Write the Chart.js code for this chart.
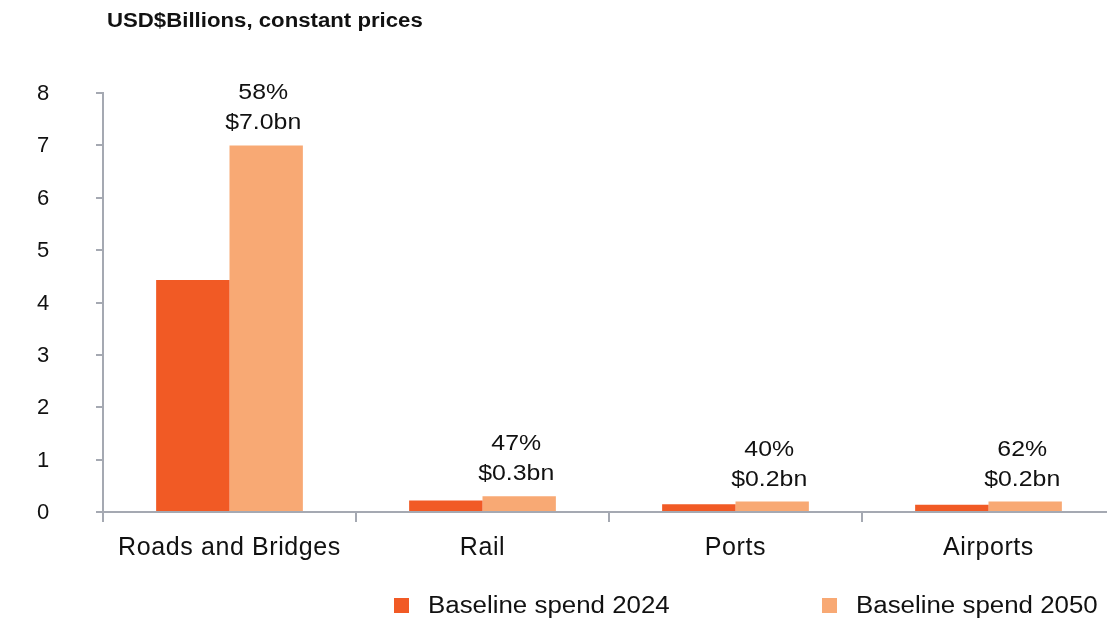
<!DOCTYPE html>
<html>
<head>
<meta charset="utf-8">
<script src="https://cdn.jsdelivr.net/npm/chart.js@4.4.1/dist/chart.umd.min.js"></script>
<style>
  html, body { margin: 0; padding: 0; background: #fff; overflow: hidden; }
  #wrap { position: relative; width: 1107px; height: 624px; overflow: hidden;
          font-family: "Liberation Sans", Arial, sans-serif; color: #111; }
  #chart { position: absolute; left: 0; top: 0; }
  #unit { position: absolute; left: 107px; top: 9px; font-size: 20px; font-weight: bold;
          white-space: nowrap; transform: scaleX(1.11); transform-origin: 0 0; }
  .key { position: absolute; top: 592px; height: 26px; white-space: nowrap; }
  .key span { position: absolute; left: 0; top: 6px; width: 15px; height: 15px; }
  .key b { position: absolute; left: 34px; top: 0; font-weight: normal; font-size: 23px; line-height: 26px;
           transform: scaleX(1.125); transform-origin: 0 0; }
</style>
</head>
<body>
<div id="wrap">
  <canvas id="chart" width="1120" height="624"></canvas>
  <div id="unit">USD$Billions, constant prices</div>
  <div id="legend"></div>
</div>
<script>
const sectors = ['Roads and Bridges', 'Rail', 'Ports', 'Airports'];
const spend2024 = [4.43, 0.22, 0.15, 0.14];
const spend2050 = [7.0, 0.3, 0.2, 0.2];
const growth = [58, 47, 40, 62];   // % change 2024 -> 2050
const yTicks = [0, 1, 2, 3, 4, 5, 6, 7, 8];

const axisGrey = '#a5a9b2';
const family = '"Liberation Sans", Arial, sans-serif';

// slightly wider tracking for the category labels
const tracking = {
  id: 'tracking',
  beforeDraw(chart) { chart.ctx.letterSpacing = '0.6px'; },
  afterDraw(chart) { chart.ctx.letterSpacing = '0px'; }
};

// growth % and 2050 value above each light bar
const barNotes = {
  id: 'barNotes',
  afterDatasetsDraw(chart) {
    const ctx = chart.ctx;
    const meta = chart.getDatasetMeta(1);
    meta.data.forEach((bar, i) => {
      ctx.save();
      ctx.letterSpacing = '0px';
      ctx.font = '22px ' + family;
      ctx.fillStyle = '#111';
      ctx.textAlign = 'center';
      ctx.textBaseline = 'alphabetic';
      ctx.translate(bar.x - 3, bar.y);
      ctx.scale(1.13, 1);
      ctx.fillText('$' + spend2050[i].toFixed(1) + 'bn', 0, -16);
      ctx.fillText(growth[i] + '%', 0, -46);
      ctx.restore();
    });
  }
};

const chart = new Chart(document.getElementById('chart'), {
  type: 'bar',
  data: {
    labels: sectors,
    datasets: [
      { label: 'Baseline spend 2024', data: spend2024, backgroundColor: '#f15a25' },
      { label: 'Baseline spend 2050', data: spend2050, backgroundColor: '#f8a974' }
    ]
  },
  options: {
    responsive: false,
    animation: false,
    devicePixelRatio: 1,
    categoryPercentage: 0.58,
    barPercentage: 1.0,
    layout: { padding: { left: 37, top: 93, right: 5, bottom: 62 } },
    plugins: { legend: { display: false }, tooltip: { enabled: false } },
    scales: {
      x: {
        grid: { offset: true, drawOnChartArea: false, tickLength: 10, color: axisGrey, lineWidth: 2 },
        border: { color: axisGrey, width: 2 },
        ticks: { color: '#111', font: { family: family, size: 25 }, padding: 11 },
        afterFit: s => { s.height = 50; }
      },
      y: {
        min: 0, max: 8,
        afterBuildTicks: s => { s.ticks = yTicks.map(v => ({ value: v })); },
        grid: { drawOnChartArea: false, tickLength: 7, color: axisGrey, lineWidth: 2 },
        border: { color: axisGrey, width: 2 },
        ticks: { color: '#111', font: { family: family, size: 22 }, crossAlign: 'far', labelOffset: 1 },
        afterFit: s => { s.width = 66; }
      }
    }
  },
  plugins: [tracking, barNotes]
});

// legend below the plot
const legendX = [394, 822];
const legend = document.getElementById('legend');
chart.data.datasets.forEach((ds, i) => {
  const item = document.createElement('div');
  item.className = 'key';
  item.style.left = legendX[i] + 'px';
  item.innerHTML = '<span style="background:' + ds.backgroundColor + '"></span><b>' + ds.label + '</b>';
  legend.appendChild(item);
});
</script>
</body>
</html>
